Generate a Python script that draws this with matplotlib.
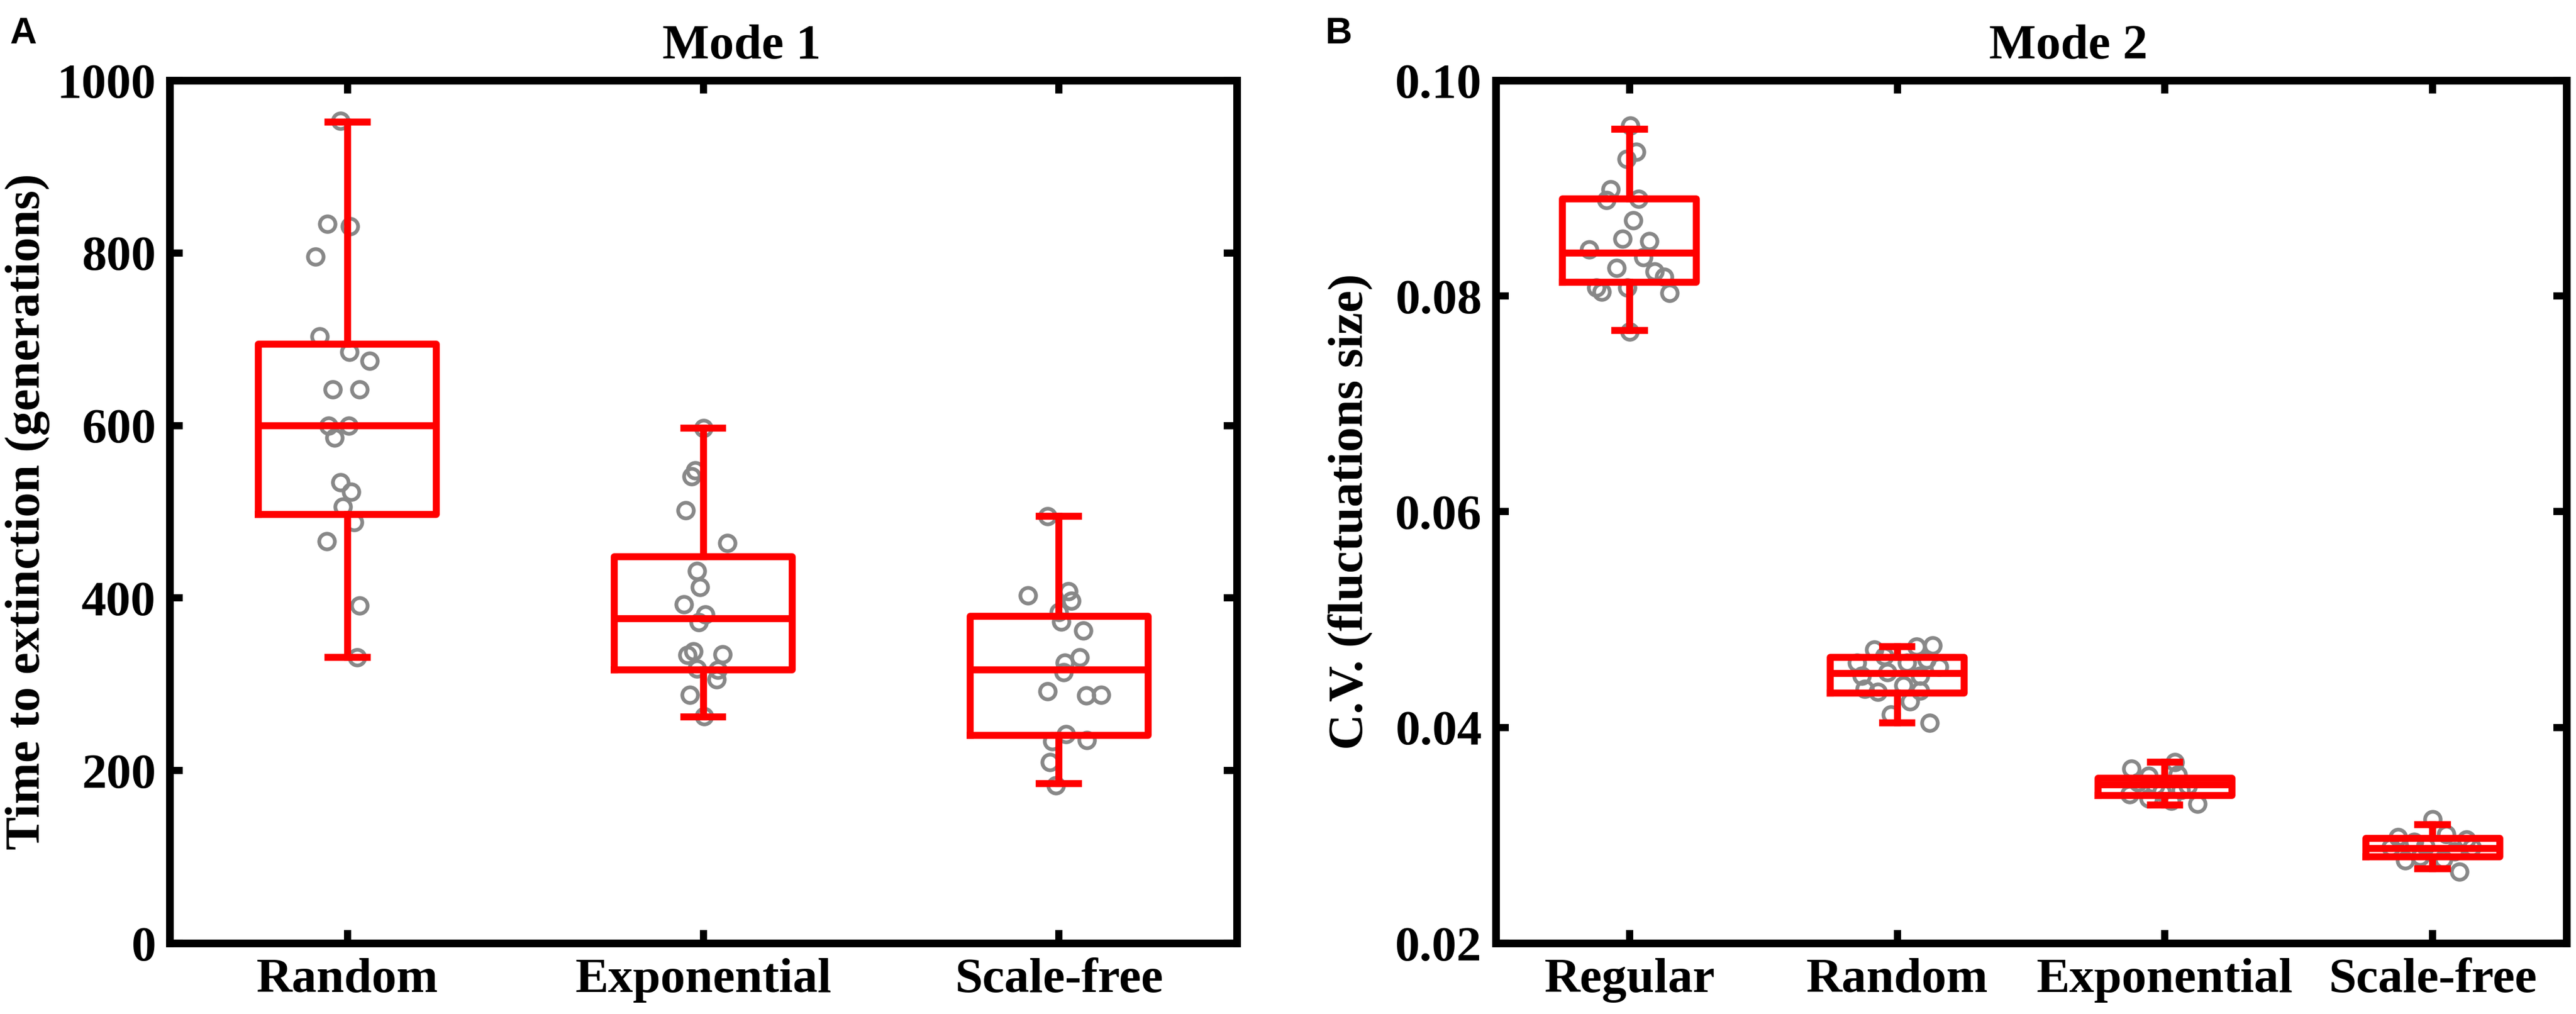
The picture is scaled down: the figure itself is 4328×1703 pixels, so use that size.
import matplotlib
matplotlib.use("Agg")
import matplotlib.pyplot as plt

# ---- data ----
mode1_cats = ["Random", "Exponential", "Scale-free"]
m1_random = [953, 834, 831, 796, 703, 685, 675, 642, 642, 600, 600, 586, 534, 523, 506, 488, 466, 391, 331]
m1_random_jit = [-0.02, -0.056, 0.007, -0.09, -0.078, 0.005, 0.062, -0.042, 0.034, -0.053, 0.004, -0.036,
                 -0.02, 0.011, -0.013, 0.018, -0.058, 0.033, 0.027]
m1_expo = [597, 548, 541, 502, 464, 431, 413, 393, 381, 372, 338, 334, 335, 318, 317, 306, 288, 263]
m1_expo_jit = [0, -0.023, -0.032, -0.049, 0.067, -0.017, -0.010, -0.055, 0.006, -0.013, -0.028, -0.045,
               0.054, -0.017, 0.041, 0.038, -0.038, 0.003]
m1_sf = [495, 403, 408, 397, 384, 373, 362, 331, 325, 314, 292, 287, 288, 242, 234, 235, 210, 183]
m1_sf_jit = [-0.032, -0.087, 0.026, 0.035, 0, 0.006, 0.068, 0.058, 0.017, 0.013, -0.032, 0.077, 0.119,
             0.019, -0.019, 0.079, -0.026, -0.009]
# box stats: whisker low, q1, median, q3, whisker high
m1_stats = [(331, 497, 600, 694, 952), (262, 317, 376, 448, 597), (185, 241, 317, 379, 495)]

mode2_cats = ["Regular", "Random", "Exponential", "Scale-free"]
m2_regular = [0.0958, 0.0934, 0.0927, 0.0899, 0.0889, 0.0890, 0.0870, 0.0853, 0.0851, 0.0843, 0.0836,
              0.0826, 0.0823, 0.0818, 0.0808, 0.0804, 0.0808, 0.0803, 0.0767]
m2_regular_jit = [0.003, 0.024, -0.011, -0.071, -0.086, 0.034, 0.013, -0.027, 0.074, -0.150, 0.051,
                  -0.048, 0.093, 0.130, -0.125, -0.105, -0.008, 0.150, 0]
m2_random = [0.0472, 0.0475, 0.0476, 0.0460, 0.0466, 0.0460, 0.0463, 0.0456, 0.0448, 0.0451, 0.0448,
             0.0436, 0.0433, 0.0439, 0.0434, 0.0424, 0.0412, 0.0404]
m2_random_jit = [-0.085, 0.072, 0.133, -0.150, -0.048, 0.036, 0.109, 0.157, -0.133, -0.036, 0.085,
                 -0.121, -0.072, 0.024, 0.085, 0.048, -0.024, 0.121]
m2_expo = [0.0368, 0.0362, 0.0355, 0.0356, 0.0349, 0.0346, 0.0346, 0.0338, 0.0340, 0.0342, 0.0334,
           0.0329, 0.0332]
m2_expo_jit = [0.036, -0.126, -0.060, 0.048, -0.101, -0.036, 0.085, -0.133, -0.012, 0.060, -0.060,
               0.121, 0.024]
m2_sf = [0.0315, 0.0298, 0.0301, 0.0294, 0.0296, 0.0289, 0.0290, 0.0285, 0.0289, 0.0277, 0.0280,
         0.0278, 0.0266]
m2_sf_jit = [0, -0.130, 0.050, -0.069, 0.126, -0.156, -0.026, 0.082, 0.147, -0.102, -0.048, 0.039, 0.100]
m2_stats = [(0.0768, 0.0813, 0.0840, 0.0890, 0.0955), (0.0404, 0.0432, 0.0450, 0.0465, 0.0475),
            (0.0328, 0.0337, 0.0347, 0.0353, 0.0368), (0.0269, 0.0280, 0.0288, 0.0297, 0.0310)]

plt.rcParams['font.family'] = ['Liberation Serif', 'DejaVu Serif']
plt.rcParams['font.weight'] = 'bold'

RED = '#ff0000'
GRAY = '#888888'
FS = 20

fig = plt.figure(figsize=(4328 / 300, 1703 / 300), dpi=300)
ax1 = fig.add_axes([0.06585, 0.06988, 0.41428, 0.85085])
ax2 = fig.add_axes([0.58064, 0.06988, 0.41566, 0.85085])


def draw(ax, cats, groups, stats):
    for i, (vals, jit) in enumerate(groups):
        xs = [i + 1 + j for j in jit]
        ax.plot(xs, vals, 'o', ls='none', mfc='none', mec=GRAY, ms=6.3, mew=1.5, zorder=1)
    bst = []
    for lo, q1, med, q3, hi in stats:
        bst.append(dict(whislo=lo, q1=q1, med=med, q3=q3, whishi=hi, fliers=[]))
    lp = dict(color=RED, linewidth=2.8)
    ax.bxp(bst, positions=range(1, len(cats) + 1), widths=0.5, capwidths=0.11,
           showfliers=False, boxprops=lp, whiskerprops=lp, capprops=lp, medianprops=lp,
           manage_ticks=False, zorder=3)
    ax.set_xlim(0.5, len(cats) + 0.5)
    ax.set_xticks(range(1, len(cats) + 1))
    ax.set_xticklabels(cats, fontsize=FS, fontweight='bold')
    for s in ax.spines.values():
        s.set_linewidth(3.1)
    ax.tick_params(direction='in', length=5.3, width=2.9, top=True, right=True, labelsize=FS)
    ax.tick_params(axis='x', pad=6)
    ax.tick_params(axis='y', pad=5.5)


draw(ax1, mode1_cats, [(m1_random, m1_random_jit), (m1_expo, m1_expo_jit), (m1_sf, m1_sf_jit)], m1_stats)
ax1.set_ylim(0, 1000)
ax1.set_yticks([0, 200, 400, 600, 800, 1000])
ax1.set_ylabel("Time to extinction (generations)", fontsize=FS, fontweight='bold')
ax1.yaxis.set_label_coords(-0.112, 0.5)
ax1.text(0.536, 1.0255, "Mode 1", transform=ax1.transAxes, ha='center', va='baseline',
         fontsize=FS, fontweight='bold')

draw(ax2, mode2_cats, [(m2_regular, m2_regular_jit), (m2_random, m2_random_jit),
                       (m2_expo, m2_expo_jit), (m2_sf, m2_sf_jit)], m2_stats)
ax2.set_ylim(0.02, 0.10)
ax2.set_yticks([0.02, 0.04, 0.06, 0.08, 0.10])
ax2.set_yticklabels(["0.02", "0.04", "0.06", "0.08", "0.10"])
ax2.set_ylabel("C.V. (fluctuations size)", fontsize=FS, fontweight='bold')
ax2.yaxis.set_label_coords(-0.115, 0.5)
ax2.text(0.535, 1.0255, "Mode 2", transform=ax2.transAxes, ha='center', va='baseline',
         fontsize=FS, fontweight='bold')

fig.text(0.0037, 0.984, "A", family='Liberation Sans', fontweight='bold', fontsize=15, va='top')
fig.text(0.5146, 0.984, "B", family='Liberation Sans', fontweight='bold', fontsize=15, va='top')

fig.savefig("out.png", dpi=300)
